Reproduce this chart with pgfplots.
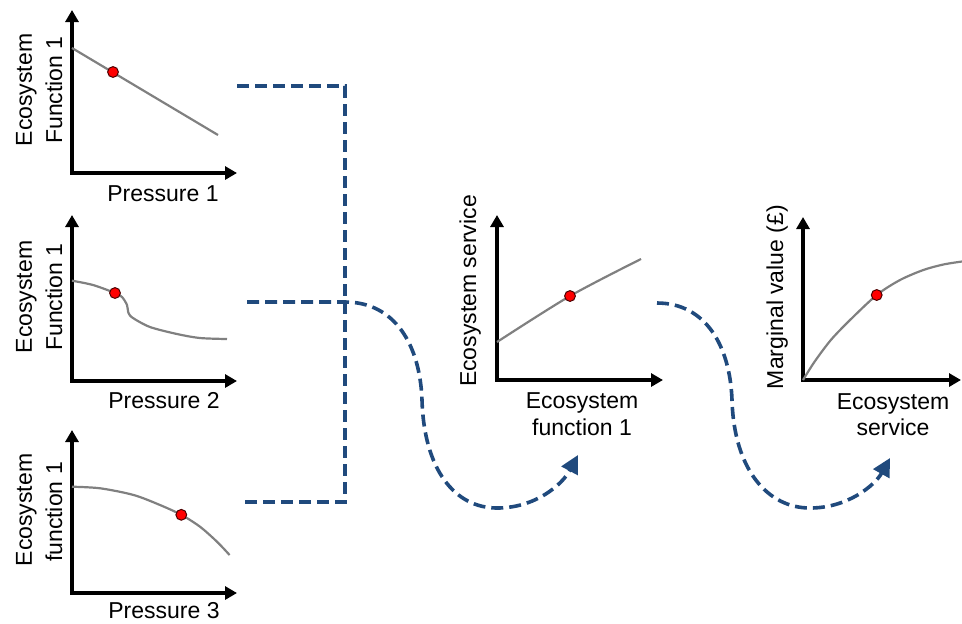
\documentclass[border=0pt]{standalone}
\usepackage{pgfplots}
\pgfplotsset{compat=1.18}
\usepackage{fontspec}
\setmainfont{Liberation Sans}
\usetikzlibrary{arrows.meta}
\definecolor{linkblue}{RGB}{32,74,125}
\definecolor{curvegray}{RGB}{128,128,128}

% small conceptual axes, data in pixel units of the reference
\pgfplotsset{
  mini/.style={
    scale only axis, anchor=south west, clip=false,
    xmin=0, ymin=0,
    axis x line=bottom, axis y line=left,
    xtick=\empty, ytick=\empty,
    axis line style={line width=2pt, line cap=rect, -{Triangle[length=6pt,width=6.5pt]}},
  },
  curve/.style={curvegray, line width=1.1pt, no marks},
  dot/.style={only marks, mark=*, mark size=2.7pt,
    mark options={fill=red, draw=black!70!red, line width=0.5pt}},
}

\begin{document}
\begin{tikzpicture}
\useasboundingbox (0,0) rectangle (481pt,-311.5pt);

% Pressure 1
\begin{axis}[mini, at={(36pt,-86.5pt)}, width=82.5pt, height=81.5pt, xmax=165, ymax=163]
\addplot[curve] coordinates {(0,125) (146,38)};
\addplot[dot] coordinates {(41,101)};
\end{axis}

% Pressure 2
\begin{axis}[mini, at={(36pt,-190.5pt)}, width=82.5pt, height=83pt, xmax=165, ymax=166]
\addplot[curve, smooth, tension=0.5] coordinates {
  (0,100.3) (21,96) (43,88) (50,84) (55,76) (56.5,68) (61,63)
  (78,54) (105,47) (128,43) (155,42)};
\addplot[dot] coordinates {(43,88)};
\end{axis}

% Pressure 3
\begin{axis}[mini, at={(36pt,-296.5pt)}, width=82.5pt, height=81.5pt, xmax=165, ymax=163]
\addplot[curve, smooth] coordinates {
  (0,106.3) (28.3,104.7) (61.7,98) (88,88) (109.3,78.2)
  (128,66.3) (145,51.3) (157.6,38)};
\addplot[dot] coordinates {(109.3,78.2)};
\end{axis}

% Ecosystem service
\begin{axis}[mini, at={(248.5pt,-190pt)}, width=83pt, height=82.5pt, xmax=166, ymax=165]
\addplot[curve, smooth] coordinates {(0,38) (73,84) (144,121)};
\addplot[dot] coordinates {(73,84)};
\end{axis}

% Marginal value
\begin{axis}[mini, at={(401.5pt,-190pt)}, width=79pt, height=81.5pt, xmax=158, ymax=163]
\addplot[curve, smooth] coordinates {
  (0,0) (10,16) (20,30) (30,42.5) (47,60) (73.7,85) (97,100)
  (120.3,110) (140.3,115.5) (159,118.5)};
\addplot[dot] coordinates {(73.7,85)};
\end{axis}

\begin{scope}[x=0.5pt, y=-0.5pt, every node/.style={font=\fontsize{11.5}{13.8}\selectfont, inner sep=0pt}]
% labels
\node[rotate=90, anchor=base] at (32,90) {Ecosystem};
\node[rotate=90, anchor=base] at (62,90) {Function 1};
\node at (163,194) {Pressure 1};
\node[rotate=90, anchor=base] at (32,297) {Ecosystem};
\node[rotate=90, anchor=base] at (62,297) {Function 1};
\node at (164,401) {Pressure 2};
\node[rotate=90, anchor=base] at (32,510) {Ecosystem};
\node[rotate=90, anchor=base] at (62,512) {function 1};
\node at (164,611) {Pressure 3};
\node[rotate=90, anchor=base] at (476,291) {Ecosystem service};
\node[anchor=base] at (582,408) {Ecosystem};
\node[anchor=base] at (582,435) {function 1};
\node[rotate=90, anchor=base] at (783,297) {Marginal value (£)};
\node[anchor=base] at (893,409) {Ecosystem};
\node[anchor=base] at (893,435) {service};

% dashed connectors
\begin{scope}[linkblue, line width=1.8pt, dash pattern=on 6pt off 3pt]
\draw (237,86) -- (345,86) -- (345,502) -- (245,502);
\draw[-{Triangle[length=9pt,width=9pt]}] (247,302) -- (345,302)
  .. controls (395,302) and (420,345) .. (422,400)
  .. controls (424,470) and (455,508) .. (497,508)
  .. controls (535,508) and (562,485) .. (578,455);
\draw[-{Triangle[length=9pt,width=9pt]}] (657,303)
  .. controls (705,303) and (730,345) .. (732,400)
  .. controls (734,470) and (768,508) .. (810,508)
  .. controls (848,508) and (875,485) .. (890,458);
\end{scope}
\end{scope}
\end{tikzpicture}
\end{document}
